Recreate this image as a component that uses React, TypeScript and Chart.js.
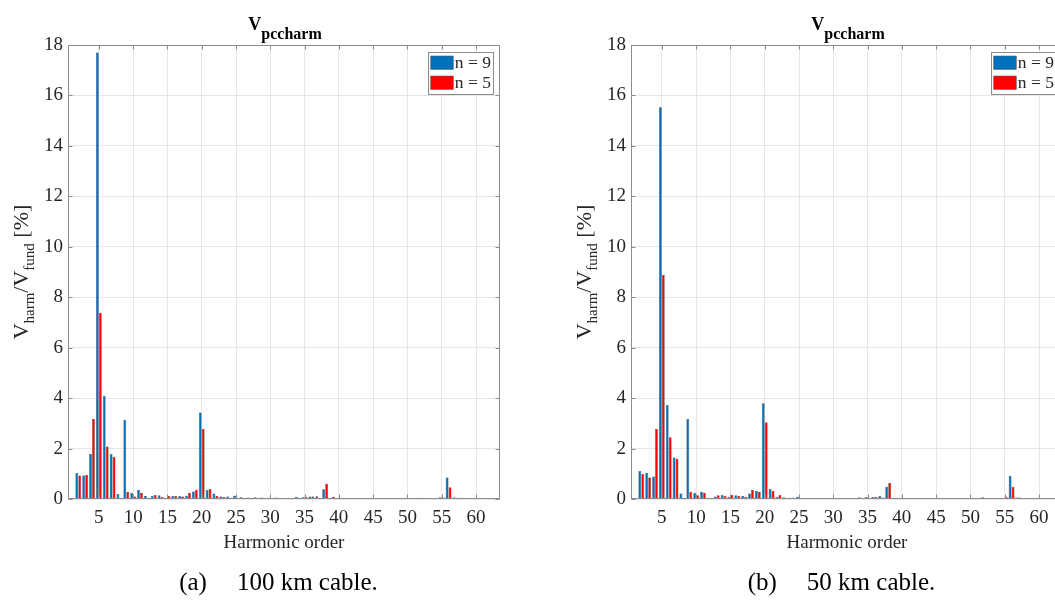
import React, { useEffect, useRef } from "react";
import { Chart, registerables } from "chart.js";

Chart.register(...registerables);

// ---------- DATA ----------
const harmonics = [
  "1", "2", "3", "4", "5", "6", "7", "8", "9", "10",
  "11", "12", "13", "14", "15", "16", "17", "18", "19", "20",
  "21", "22", "23", "24", "25", "26", "27", "28", "29", "30",
  "31", "32", "33", "34", "35", "36", "37", "38", "39", "40",
  "41", "42", "43", "44", "45", "46", "47", "48", "49", "50",
  "51", "52", "53", "54", "55", "56", "57", "58", "59", "60",
  "61", "62", "63",
];
const xTickLabels = ["5", "10", "15", "20", "25", "30", "35", "40", "45", "50", "55", "60"];
const yTickValues = [0, 2, 4, 6, 8, 10, 12, 14, 16, 18];

const seriesLabels = ["n = 9", "n = 5"];

// (a) 100 km cable
const cable100_n9 = [
  0, 1.03, 0.93, 1.78, 17.7, 4.09, 1.78, 0.2, 3.13, 0.25,
  0.36, 0.12, 0.13, 0.15, 0.04, 0.13, 0.13, 0.13, 0.3, 3.43,
  0.36, 0.22, 0.1, 0.1, 0.13, 0.07, 0.06, 0.07, 0.06, 0.05,
  0.06, 0.04, 0.04, 0.09, 0.07, 0.1, 0.11, 0.39, 0.03, 0.03,
  0.02, 0.02, 0.02, 0.02, 0.02, 0.02, 0.02, 0.02, 0.02, 0.02,
  0.02, 0.05, 0.02, 0.03, 0.07, 0.85, 0.06, 0.05, 0.04, 0.03,
  0.03, 0.03, 0.02,
];
const cable100_n5 = [
  0, 0.93, 0.95, 3.17, 7.38, 2.08, 1.68, 0.05, 0.28, 0.1,
  0.24, 0.05, 0.16, 0.08, 0.12, 0.12, 0.1, 0.24, 0.37, 2.78,
  0.4, 0.13, 0.08, 0.05, 0.05, 0.04, 0.04, 0.05, 0.04, 0.04,
  0.03, 0.03, 0.03, 0.05, 0.09, 0.1, 0.05, 0.6, 0.09, 0.03,
  0.02, 0.02, 0.02, 0.02, 0.02, 0.02, 0.02, 0.02, 0.02, 0.02,
  0.02, 0.04, 0.02, 0.02, 0.06, 0.47, 0.05, 0.02, 0.02, 0.02,
  0.02, 0.02, 0.02,
];

// (b) 50 km cable
const cable50_n9 = [
  0, 1.11, 1.04, 0.89, 15.53, 3.73, 1.65, 0.22, 3.17, 0.25,
  0.29, 0.05, 0.1, 0.16, 0.09, 0.15, 0.12, 0.22, 0.32, 3.8,
  0.4, 0.09, 0.07, 0.05, 0.09, 0.04, 0.04, 0.04, 0.04, 0.03,
  0.04, 0.02, 0.03, 0.07, 0.08, 0.08, 0.12, 0.49, 0.05, 0.02,
  0.02, 0.02, 0.02, 0.02, 0.02, 0.02, 0.02, 0.02, 0.02, 0.02,
  0.02, 0.07, 0.03, 0.03, 0.04, 0.91, 0.06, 0.03, 0.03, 0.03,
  0.03, 0.03, 0.03,
];
const cable50_n5 = [
  0, 0.99, 0.85, 2.78, 8.88, 2.45, 1.6, 0.05, 0.29, 0.15,
  0.25, 0.05, 0.15, 0.13, 0.16, 0.13, 0.08, 0.36, 0.29, 3.04,
  0.33, 0.16, 0.04, 0.05, 0.03, 0.03, 0.03, 0.03, 0.03, 0.03,
  0.03, 0.03, 0.03, 0.04, 0.03, 0.09, 0.06, 0.63, 0.05, 0.04,
  0.02, 0.02, 0.02, 0.02, 0.02, 0.02, 0.02, 0.02, 0.02, 0.02,
  0.02, 0.04, 0.02, 0.02, 0.09, 0.49, 0.06, 0.02, 0.02, 0.02,
  0.02, 0.02, 0.02,
];

// ---------- STYLE ----------
const FONT = "'Liberation Serif', 'Times New Roman', serif";
const BLUE = "#0072BD";
const RED = "#FF0000";
const AXIS_GRAY = "#8c8c8c";
const GRID = "#e6e6e6";
const TEXT = "#262626";

const decoPlugin = {
  id: "deco",
  afterDatasetsDraw(chart: any) {
    const { ctx, chartArea: ca } = chart;
    const xs = chart.scales.x;
    const ys = chart.scales.y;
    ctx.save();
    // axes box
    ctx.strokeStyle = AXIS_GRAY;
    ctx.lineWidth = 1;
    const L = Math.round(ca.left) + 0.5;
    const R = Math.round(ca.right) - 0.5;
    const T = Math.round(ca.top) + 0.5;
    const B = Math.round(ca.bottom) - 0.5;
    ctx.strokeRect(L, T, R - L, B - T);
    // inward ticks
    ctx.beginPath();
    harmonics.forEach((lab, i) => {
      if (xTickLabels.includes(lab)) {
        const x = Math.round(xs.getPixelForTick(i)) + 0.5;
        ctx.moveTo(x, B);
        ctx.lineTo(x, B - 4);
        ctx.moveTo(x, T);
        ctx.lineTo(x, T + 4);
      }
    });
    yTickValues.forEach((v) => {
      const y = Math.round(ys.getPixelForValue(v)) + 0.5;
      ctx.moveTo(L, y);
      ctx.lineTo(L + 4, y);
      ctx.moveTo(R, y);
      ctx.lineTo(R - 4, y);
    });
    ctx.stroke();

    // legend
    const bl = ca.right - 71.7;
    const bt = ca.top + 6.7;
    const bw = 65;
    const bh = 42.3;
    ctx.fillStyle = "#ffffff";
    ctx.fillRect(bl, bt, bw, bh);
    ctx.strokeStyle = AXIS_GRAY;
    ctx.strokeRect(Math.round(bl) + 0.5, Math.round(bt) + 0.5, Math.round(bw), Math.round(bh));
    const ds = chart.data.datasets;
    const rows = [bt + 4.3, bt + 24.3];
    ds.forEach((d: any, i: number) => {
      const sy = rows[i];
      ctx.fillStyle = d.backgroundColor;
      ctx.fillRect(bl + 2.4, sy, 22.6, 13.5);
      ctx.strokeStyle = "#666";
      ctx.lineWidth = 0.6;
      ctx.strokeRect(bl + 2.4, sy, 22.6, 13.5);
      ctx.fillStyle = TEXT;
      ctx.font = `17.5px ${FONT}`;
      ctx.textAlign = "left";
      ctx.textBaseline = "middle";
      ctx.fillText(d.label, bl + 26.5, sy + 7.5);
    });
    ctx.restore();
  },
  afterDraw(chart: any, _args: any, opts: any) {
    const { ctx, chartArea: ca } = chart;
    const cx = (ca.left + ca.right) / 2;
    ctx.save();
    ctx.fillStyle = "#000";
    ctx.textAlign = "left";
    ctx.textBaseline = "alphabetic";

    // title V_pccharm
    ctx.font = `bold 18px ${FONT}`;
    const wV = ctx.measureText("V").width;
    ctx.font = `bold 16px ${FONT}`;
    const wS = ctx.measureText("pccharm").width;
    const tx = cx + 1 - (wV + wS) / 2;
    ctx.font = `bold 18px ${FONT}`;
    ctx.fillText("V", tx, ca.top - 15);
    ctx.font = `bold 16px ${FONT}`;
    ctx.fillText("pccharm", tx + wV, ca.top - 6);

    // x title
    ctx.fillStyle = TEXT;
    ctx.font = `19px ${FONT}`;
    ctx.textAlign = "center";
    ctx.fillText("Harmonic order", cx, ca.bottom + 49);

    // y title (rotated)
    const cy = (ca.top + ca.bottom) / 2;
    const parts = [
      { t: "V", f: 22, dy: 0 },
      { t: "harm", f: 15, dy: 6 },
      { t: "/V", f: 22, dy: 0 },
      { t: "fund", f: 15, dy: 6 },
      { t: " [%]", f: 22, dy: 0 },
    ];
    let total = 0;
    parts.forEach((p) => {
      ctx.font = `${p.f}px ${FONT}`;
      total += ctx.measureText(p.t).width;
    });
    ctx.save();
    ctx.translate(ca.left - 40, cy);
    ctx.rotate(-Math.PI / 2);
    ctx.textAlign = "left";
    let px = -total / 2;
    parts.forEach((p) => {
      ctx.font = `${p.f}px ${FONT}`;
      ctx.fillText(p.t, px, p.dy);
      px += ctx.measureText(p.t).width;
    });
    ctx.restore();

    // caption
    if (opts && opts.caption) {
      ctx.fillStyle = "#000";
      ctx.font = `25px ${FONT}`;
      ctx.textAlign = "left";
      const a = opts.caption[0];
      const b = opts.caption[1];
      const wa = ctx.measureText(a).width;
      const wb = ctx.measureText(b).width;
      const gap = 30;
      const x0 = cx - 5.5 - (wa + gap + wb) / 2;
      ctx.fillText(a, x0, 589.5);
      ctx.fillText(b, x0 + wa + gap, 589.5);
    }
    ctx.restore();
  },
};

function HarmChart({ n9, n5, caption, left }: { n9: number[]; n5: number[]; caption: string[]; left: number }) {
  const ref = useRef<HTMLCanvasElement | null>(null);
  useEffect(() => {
    if (!ref.current) return;
    const chart = new Chart(ref.current, {
      type: "bar",
      data: {
        labels: harmonics,
        datasets: [
          {
            label: seriesLabels[0],
            data: n9,
            backgroundColor: BLUE,
            borderColor: "rgba(20,20,40,0.85)",
            borderWidth: 0.5,
            categoryPercentage: 0.86,
            barPercentage: 0.95,
          },
          {
            label: seriesLabels[1],
            data: n5,
            backgroundColor: RED,
            borderColor: "rgba(40,10,10,0.85)",
            borderWidth: 0.5,
            categoryPercentage: 0.86,
            barPercentage: 0.95,
          },
        ],
      },
      options: {
        responsive: false,
        animation: false,
        devicePixelRatio: 1,
        layout: { padding: { left: 0, top: 45, right: 40, bottom: 47 } },
        plugins: {
          legend: { display: false },
          tooltip: { enabled: false },
          title: { display: false },
          deco: { caption },
        } as any,
        scales: {
          x: {
            type: "category",
            offset: true,
            grid: {
              offset: false,
              drawTicks: false,
              color: (c: any) => (c.tick && xTickLabels.includes(String(harmonics[c.index])) ? GRID : "rgba(0,0,0,0)"),
            },
            border: { display: false },
            ticks: {
              autoSkip: false,
              maxRotation: 0,
              padding: 8,
              color: TEXT,
              font: { family: FONT, size: 19 },
              callback: (_v: any, i: number) => (xTickLabels.includes(harmonics[i]) ? harmonics[i] : ""),
            },
            afterFit: (s: any) => {
              s.height = 60;
            },
          },
          y: {
            min: 0,
            max: 18,
            grid: { color: GRID, drawTicks: false },
            border: { display: false },
            ticks: {
              stepSize: 2,
              padding: 5,
              color: TEXT,
              font: { family: FONT, size: 19 },
            },
            afterFit: (s: any) => {
              s.width = 68;
            },
          },
        },
      },
      plugins: [decoPlugin],
    } as any);
    return () => chart.destroy();
  }, []);
  return (
    <canvas
      ref={ref}
      width={540}
      height={606}
      style={{ position: "absolute", left, top: 0, width: 540, height: 606 }}
    />
  );
}

export default function App() {
  return (
    <div
      style={{
        position: "fixed",
        left: 0,
        top: 0,
        width: 1055,
        height: 606,
        overflow: "hidden",
        background: "#ffffff",
      }}
    >
      <HarmChart n9={cable100_n9} n5={cable100_n5} caption={["(a)", "100 km cable."]} left={0} />
      <HarmChart n9={cable50_n9} n5={cable50_n5} caption={["(b)", "50 km cable."]} left={563} />
    </div>
  );
}
